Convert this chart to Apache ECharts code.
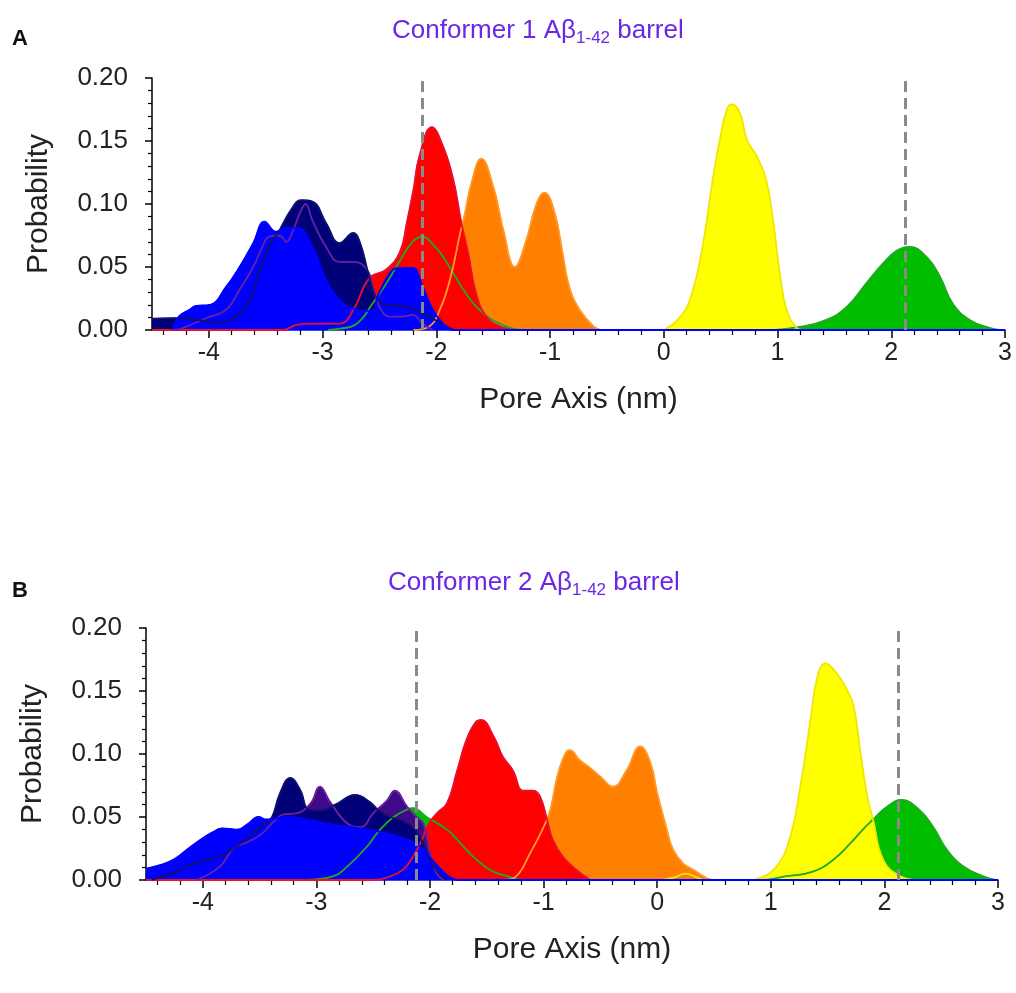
<!DOCTYPE html>
<html>
<head>
<meta charset="utf-8">
<script src="https://cdn.jsdelivr.net/npm/echarts@6/dist/echarts.min.js"></script>
<style>
  html, body { margin: 0; padding: 0; background: #fff; }
  #chart { width: 1016px; height: 993px; }
</style>
</head>
<body>
<div id="chart"></div>
<script>
// 刻度
const majorTicks = [-4, -3, -2, -1, 0, 1, 2, 3]
const dashX = [-2.12, 2.12]
const titles = ['Conformer 1 Aβ', 'Conformer 2 Aβ']
const panelLetters = ['A', 'B']

// 图 A 数据 [位置 nm, 概率]
const a_green = [[-2.95, 0], [-2.85, 0.001], [-2.7, 0.005], [-2.56, 0.021], [-2.44, 0.037], [-2.32, 0.055], [-2.21, 0.07], [-2.12, 0.074], [-2.03, 0.068], [-1.94, 0.058], [-1.85, 0.045], [-1.74, 0.029], [-1.62, 0.016], [-1.44, 0.005], [-1.21, 0], [0.9, 0], [1.2, 0.0026], [1.43, 0.008], [1.61, 0.0185], [1.78, 0.037], [1.93, 0.053], [2.05, 0.063], [2.16, 0.066], [2.31, 0.058], [2.43, 0.042], [2.54, 0.021], [2.69, 0.008], [2.87, 0.0015], [2.95, 0]]
const a_yellow = [[0, 0], [0.12, 0.008], [0.23, 0.024], [0.34, 0.066], [0.43, 0.119], [0.51, 0.159], [0.56, 0.176], [0.6, 0.179], [0.67, 0.172], [0.73, 0.151], [0.82, 0.1375], [0.9, 0.119], [0.96, 0.087], [1.02, 0.045], [1.08, 0.016], [1.17, 0.0015], [1.22, 0]]
const a_orange = [[-2.2, 0], [-2.06, 0.003], [-1.97, 0.016], [-1.88, 0.04], [-1.79, 0.077], [-1.75, 0.092], [-1.69, 0.117], [-1.605, 0.136], [-1.5, 0.114], [-1.41, 0.079], [-1.31, 0.05], [-1.21, 0.071], [-1.12, 0.1], [-1.05, 0.109], [-0.96, 0.093], [-0.89, 0.061], [-0.83, 0.034], [-0.74, 0.016], [-0.62, 0.003], [-0.55, 0]]
const a_red = [[-4.5, 0], [-3.35, 0], [-3.23, 0.004], [-3.1, 0.005], [-2.85, 0.005], [-2.73, 0.016], [-2.59, 0.041], [-2.44, 0.048], [-2.32, 0.062], [-2.26, 0.085], [-2.2, 0.112], [-2.15, 0.1375], [-2.04, 0.161], [-1.94, 0.1455], [-1.85, 0.119], [-1.78, 0.085], [-1.72, 0.061], [-1.65, 0.029], [-1.56, 0.0106], [-1.44, 0.003], [-1.3, 0]]
const a_purple = [[-4.3, 0], [-4.23, 0.0015], [-4.02, 0.0095], [-3.85, 0.016], [-3.73, 0.032], [-3.61, 0.05], [-3.53, 0.066], [-3.47, 0.074], [-3.38, 0.075], [-3.32, 0.07], [-3.26, 0.079], [-3.19, 0.095], [-3.15, 0.1], [-3.09, 0.087], [-2.97, 0.066], [-2.85, 0.054], [-2.73, 0.054], [-2.61, 0.048], [-2.56, 0.034], [-2.5, 0.0185], [-2.41, 0.0106], [-2.3, 0.0106], [-2.21, 0.012], [-2.12, 0.005], [-2.03, 0]]
const a_navy = [[-4.5, 0.009], [-4.3, 0.0095], [-4.1, 0.008], [-3.93, 0.006], [-3.76, 0.011], [-3.64, 0.024], [-3.55, 0.048], [-3.47, 0.066], [-3.38, 0.079], [-3.28, 0.095], [-3.19, 0.103], [-3.09, 0.102], [-2.97, 0.085], [-2.85, 0.069], [-2.73, 0.077], [-2.67, 0.069], [-2.59, 0.042], [-2.53, 0.026], [-2.44, 0.02], [-2.26, 0.0185], [-2.12, 0.013], [-1.97, 0.006], [-1.85, 0]]
const a_blue = [[-4.32, 0], [-4.26, 0.011], [-4.17, 0.016], [-4.12, 0.019], [-3.99, 0.02], [-3.85, 0.034], [-3.73, 0.05], [-3.61, 0.069], [-3.51, 0.086], [-3.41, 0.078], [-3.33, 0.081], [-3.22, 0.081], [-3.09, 0.066], [-2.97, 0.04], [-2.85, 0.024], [-2.7, 0.016], [-2.58, 0.015], [-2.5, 0.03], [-2.41, 0.045], [-2.34, 0.049], [-2.21, 0.049], [-2.12, 0.034], [-2.03, 0.016], [-1.94, 0.005], [-1.85, 0], [3, 0]]

// 图 B 数据
const b_green = [[-3.1, 0], [-2.85, 0.003], [-2.73, 0.0106], [-2.56, 0.026], [-2.44, 0.04], [-2.32, 0.05], [-2.2, 0.056], [-2.15, 0.057], [-2.03, 0.05], [-1.85, 0.04], [-1.73, 0.029], [-1.62, 0.0185], [-1.47, 0.008], [-1.32, 0.003], [-1.18, 0], [0.9, 0], [1.14, 0.003], [1.37, 0.0066], [1.55, 0.016], [1.7, 0.029], [1.81, 0.04], [1.9, 0.048], [2.02, 0.058], [2.15, 0.0635], [2.31, 0.0555], [2.43, 0.042], [2.55, 0.024], [2.7, 0.0106], [2.87, 0.003], [2.98, 0]]
const b_yellow = [[0.05, 0], [0.15, 0.002], [0.25, 0.005], [0.35, 0.002], [0.42, 0], [0.8, 0], [0.88, 0.001], [1.05, 0.0106], [1.17, 0.034], [1.26, 0.074], [1.35, 0.127], [1.41, 0.161], [1.48, 0.172], [1.58, 0.164], [1.67, 0.151], [1.73, 0.1375], [1.79, 0.1005], [1.85, 0.066], [1.9, 0.048], [1.99, 0.016], [2.14, 0.003], [2.3, 0]]
const b_orange = [[-1.35, 0], [-1.24, 0.003], [-1.12, 0.021], [-1, 0.042], [-0.94, 0.056], [-0.88, 0.082], [-0.81, 0.1], [-0.77, 0.103], [-0.68, 0.095], [-0.59, 0.089], [-0.5, 0.082], [-0.39, 0.074], [-0.27, 0.087], [-0.15, 0.106], [-0.06, 0.093], [0, 0.069], [0.085, 0.04], [0.14, 0.024], [0.23, 0.013], [0.32, 0.008], [0.44, 0.0013], [0.5, 0]]
const b_red = [[-4.5, 0], [-2.5, 0], [-2.38, 0.002], [-2.24, 0.008], [-2.15, 0.0185], [-2.06, 0.034], [-2.03, 0.042], [-1.94, 0.053], [-1.85, 0.061], [-1.76, 0.087], [-1.68, 0.111], [-1.6, 0.125], [-1.55, 0.127], [-1.44, 0.114], [-1.36, 0.098], [-1.27, 0.087], [-1.18, 0.071], [-1.09, 0.071], [-1.03, 0.066], [-0.97, 0.048], [-0.92, 0.032], [-0.83, 0.0185], [-0.71, 0.008], [-0.59, 0]]
const b_purple = [[-4.05, 0], [-3.85, 0.0106], [-3.73, 0.025], [-3.61, 0.03], [-3.49, 0.036], [-3.38, 0.046], [-3.29, 0.052], [-3.17, 0.053], [-3.05, 0.061], [-2.97, 0.074], [-2.88, 0.062], [-2.73, 0.045], [-2.61, 0.042], [-2.5, 0.053], [-2.38, 0.063], [-2.31, 0.071], [-2.2, 0.058], [-2.12, 0.05], [-2.06, 0.045], [-2, 0.021], [-1.94, 0.005], [-1.88, 0]]
const b_navy = [[-4.45, 0], [-4.26, 0.0055], [-4.11, 0.012], [-3.96, 0.016], [-3.82, 0.02], [-3.67, 0.029], [-3.56, 0.037], [-3.44, 0.046], [-3.39, 0.05], [-3.32, 0.069], [-3.23, 0.081], [-3.14, 0.071], [-3.07, 0.056], [-2.97, 0.055], [-2.83, 0.06], [-2.66, 0.0675], [-2.53, 0.062], [-2.45, 0.055], [-2.35, 0.05], [-2.2, 0.045], [-2.09, 0.034], [-2, 0.016], [-1.91, 0.004], [-1.85, 0]]
const b_blue = [[-4.5, 0.009], [-4.37, 0.012], [-4.26, 0.016], [-4.14, 0.024], [-4.02, 0.032], [-3.91, 0.038], [-3.83, 0.041], [-3.7, 0.04], [-3.61, 0.044], [-3.51, 0.05], [-3.44, 0.048], [-3.35, 0.049], [-3.26, 0.05], [-3.08, 0.048], [-2.85, 0.044], [-2.61, 0.041], [-2.38, 0.037], [-2.2, 0.032], [-2.09, 0.027], [-2, 0.018], [-1.91, 0.009], [-1.82, 0.002], [-1.75, 0], [3, 0]]

const panels = [
  { green: a_green, yellow: a_yellow, orange: a_orange, red: a_red, purple: a_purple, navy: a_navy, blue: a_blue },
  { green: b_green, yellow: b_yellow, orange: b_orange, red: b_red, purple: b_purple, navy: b_navy, blue: b_blue }
]

// 颜色 (填充从下到上)
const order = ['green', 'yellow', 'orange', 'red', 'purple', 'navy', 'blue']
const fillColors = { green: '#00bd00', yellow: '#ffff00', orange: '#ff8000', red: '#ff0000', purple: '#3f0a8a', navy: '#000078', blue: '#0000ff' }
const lineColors = { green: '#22a822', yellow: '#f2e600', orange: '#ff9a2a', red: '#e81030', purple: '#6a22a0', navy: '#12126a', blue: '#0000ff' }

const font = "'Liberation Sans', Arial, sans-serif"
const grids = [
  { left: 152, right: 11, top: 78, height: 252 },
  { left: 146, right: 18, top: 628, height: 252 }
]

const minorTicks = []
for (let v = -4.4; v < 3; v += 0.2) {
  if (Math.abs(v - Math.round(v)) > 0.01) minorTicks.push(Math.round(v * 10) / 10)
}

const xAxis = []
const yAxis = []
const series = []
const title = []

grids.forEach((g, p) => {
  xAxis.push({
    type: 'value', gridIndex: p, min: -4.5, max: 3, position: 'bottom',
    axisLine: { show: true, onZero: false, lineStyle: { color: '#0000ff', width: 1.5 } },
    axisTick: { show: true, customValues: majorTicks, length: 8, lineStyle: { color: '#000', width: 1.5 } },
    axisLabel: { customValues: majorTicks, fontSize: 25, color: '#222', margin: 11, fontFamily: font },
    splitLine: { show: false },
    name: 'Pore Axis (nm)', nameLocation: 'middle', nameGap: 55,
    nameTextStyle: { fontSize: 30, color: '#222', fontFamily: font }
  })
  xAxis.push({
    type: 'value', gridIndex: p, min: -4.5, max: 3, position: 'bottom',
    axisLine: { show: false, onZero: false },
    axisTick: { show: true, customValues: minorTicks, length: 5, lineStyle: { color: '#000', width: 1.2 } },
    axisLabel: { show: false },
    splitLine: { show: false }
  })
  yAxis.push({
    type: 'value', gridIndex: p, min: 0, max: 0.2, interval: 0.05, position: 'left',
    axisLine: { show: true, onZero: false, lineStyle: { color: '#000', width: 1.5 } },
    axisTick: { show: true, length: 7, lineStyle: { color: '#000', width: 1.5 } },
    minorTick: { show: true, splitNumber: 5, length: 4, lineStyle: { color: '#000', width: 1.2 } },
    axisLabel: { formatter: v => v.toFixed(2), fontSize: 26, color: '#222', margin: 24, fontFamily: font },
    splitLine: { show: false },
    name: 'Probability', nameLocation: 'middle', nameGap: 98,
    nameTextStyle: { fontSize: 30, color: '#222', fontFamily: font }
  })

  const data = panels[p]
  // 填充层
  order.forEach(k => {
    series.push({
      type: 'line', xAxisIndex: p * 2, yAxisIndex: p, data: data[k],
      smooth: 0.45, symbol: 'none', silent: true, z: 2,
      lineStyle: { width: 1, color: fillColors[k] },
      areaStyle: { color: fillColors[k], opacity: 1 }
    })
  })
  // 轮廓线
  order.forEach((k, i) => {
    const s = {
      type: 'line', xAxisIndex: p * 2, yAxisIndex: p, data: data[k],
      smooth: 0.45, symbol: 'none', silent: true, z: 3,
      lineStyle: { width: 1.8, color: lineColors[k] }
    }
    if (i === order.length - 1) {
      s.markLine = {
        silent: true, symbol: 'none', label: { show: false },
        lineStyle: { type: [11, 6], width: 3, color: '#8a8a8a' },
        data: dashX.map(x => ({ xAxis: x }))
      }
    }
    series.push(s)
  })

  title.push({
    text: '{a|' + titles[p] + '}{s|1-42}{a| barrel}',
    left: p === 0 ? 392 : 388, top: p === 0 ? 16 : 568, padding: 0,
    textStyle: {
      rich: {
        a: { fontSize: 26, fontWeight: 'normal', color: '#6a28e6', fontFamily: font, lineHeight: 30 },
        s: { fontSize: 17, fontWeight: 'normal', color: '#6a28e6', fontFamily: font, lineHeight: 30, padding: [14, 0, 0, 0] }
      }
    }
  })
  title.push({
    text: panelLetters[p], left: 12, top: p === 0 ? 28 : 580, padding: 0,
    textStyle: { fontSize: 22, fontWeight: 'bold', color: '#111', fontFamily: font }
  })
})

const chart = echarts.init(document.getElementById('chart'))
chart.setOption({
  animation: false,
  backgroundColor: '#fff',
  title,
  grid: grids,
  xAxis,
  yAxis,
  series
})
</script>
</body>
</html>
